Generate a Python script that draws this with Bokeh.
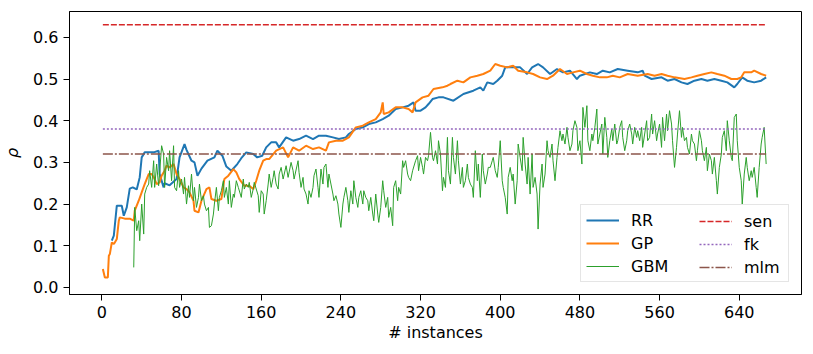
from bokeh.plotting import figure
from bokeh.models import Range1d, FixedTicker, Legend, LegendItem, CustomJSTickFormatter
from bokeh.embed import file_html
from bokeh.resources import INLINE

# ---------------- data ----------------
rr_instances = [10, 12, 15, 20, 22, 25, 28, 31, 35, 38, 40, 43, 52, 57, 58, 62, 63, 68, 75, 78,
                83, 85, 90, 93, 96, 100, 106, 113, 116, 121, 125, 130, 136, 140, 145, 152, 156, 161, 165, 170,
                175, 178, 185, 192, 198, 205, 212, 218, 225, 232, 238, 245, 248, 255, 262, 268, 275, 282, 288, 295,
                302, 308, 313, 315, 320, 325, 328, 332, 338, 343, 353, 363, 373, 380, 383, 387, 393, 397, 402, 405,
                413, 420, 427, 432, 438, 443, 450, 457, 463, 470, 477, 480, 490, 497, 503, 510, 518, 528, 538, 543,
                545, 552, 562, 568, 575, 582, 588, 595, 602, 608, 615, 622, 628, 635, 638, 643, 648, 655, 662, 667]
rr_rho = [0.112, 0.124, 0.196, 0.196, 0.172, 0.192, 0.237, 0.24, 0.235, 0.264, 0.312, 0.324, 0.324, 0.328, 0.272, 0.24, 0.25, 0.245, 0.26, 0.312,
          0.344, 0.33, 0.304, 0.30, 0.268, 0.285, 0.304, 0.312, 0.328, 0.316, 0.29, 0.28, 0.296, 0.31, 0.324, 0.32, 0.312, 0.316, 0.336, 0.348,
          0.348, 0.336, 0.36, 0.352, 0.356, 0.364, 0.356, 0.364, 0.364, 0.36, 0.356, 0.36, 0.368, 0.38, 0.384, 0.392, 0.396, 0.404, 0.412, 0.428,
          0.432, 0.436, 0.444, 0.424, 0.424, 0.432, 0.44, 0.452, 0.456, 0.456, 0.448, 0.464, 0.472, 0.48, 0.472, 0.492, 0.488, 0.496, 0.508, 0.528,
          0.528, 0.528, 0.512, 0.528, 0.536, 0.528, 0.512, 0.524, 0.516, 0.52, 0.50, 0.508, 0.516, 0.512, 0.52, 0.516, 0.524, 0.52, 0.516, 0.52,
          0.508, 0.50, 0.504, 0.496, 0.50, 0.492, 0.488, 0.496, 0.50, 0.496, 0.50, 0.496, 0.492, 0.48, 0.488, 0.504, 0.496, 0.492, 0.496, 0.504]

gp_instances = [1, 3, 6, 7, 8, 10, 12, 13, 15, 17, 18, 23, 28, 32, 33, 37, 40, 43, 47, 50,
                53, 55, 58, 60, 63, 65, 68, 72, 75, 78, 82, 85, 88, 92, 93, 97, 100, 105, 108, 110,
                115, 120, 123, 127, 132, 135, 138, 143, 148, 152, 155, 158, 162, 165, 168, 175, 182, 187, 192, 198,
                205, 212, 218, 225, 228, 235, 242, 248, 255, 262, 268, 275, 280, 282, 283, 288, 295, 302, 308, 312,
                315, 322, 328, 333, 342, 347, 350, 357, 363, 370, 377, 383, 390, 395, 400, 407, 413, 418, 427, 433,
                440, 447, 453, 460, 467, 473, 480, 487, 493, 500, 507, 513, 520, 528, 538, 548, 555, 562, 568, 575,
                585, 592, 598, 605, 612, 618, 625, 632, 638, 642, 645, 652, 655, 662, 667]
gp_rho = [0.044, 0.024, 0.024, 0.076, 0.08, 0.108, 0.104, 0.108, 0.116, 0.16, 0.168, 0.165, 0.165, 0.16, 0.184, 0.208, 0.228, 0.248, 0.272, 0.272,
          0.26, 0.248, 0.252, 0.268, 0.28, 0.292, 0.288, 0.296, 0.272, 0.26, 0.24, 0.236, 0.228, 0.208, 0.184, 0.18, 0.208, 0.236, 0.24, 0.212,
          0.208, 0.212, 0.26, 0.268, 0.284, 0.276, 0.26, 0.244, 0.244, 0.236, 0.256, 0.28, 0.304, 0.308, 0.308, 0.328, 0.336, 0.312, 0.336, 0.328,
          0.34, 0.332, 0.336, 0.328, 0.348, 0.352, 0.352, 0.36, 0.384, 0.388, 0.396, 0.404, 0.42, 0.444, 0.416, 0.42, 0.432, 0.432, 0.428, 0.42,
          0.444, 0.456, 0.46, 0.476, 0.48, 0.484, 0.488, 0.496, 0.492, 0.504, 0.508, 0.512, 0.52, 0.536, 0.532, 0.528, 0.532, 0.52, 0.516, 0.512,
          0.504, 0.50, 0.508, 0.524, 0.512, 0.516, 0.52, 0.512, 0.508, 0.504, 0.504, 0.508, 0.504, 0.512, 0.508, 0.512, 0.508, 0.512, 0.508, 0.504,
          0.50, 0.504, 0.508, 0.512, 0.516, 0.512, 0.508, 0.50, 0.50, 0.504, 0.516, 0.516, 0.52, 0.512, 0.508]

gbm_instances = [32, 33, 35, 37, 38, 40, 42, 43, 45, 47, 48, 50, 52, 53, 55, 57, 60, 62, 63, 65,
                 67, 68, 70, 72, 73, 75, 77, 78, 80, 82, 83, 85, 87, 88, 90, 92, 93, 95, 97, 98,
                 100, 102, 103, 105, 107, 108, 110, 112, 113, 115, 117, 118, 120, 122, 123, 125, 127, 128, 130, 132,
                 133, 135, 137, 140, 142, 143, 145, 147, 148, 150, 152, 153, 157, 158, 160, 162, 163, 165, 167, 168,
                 170, 172, 173, 175, 177, 178, 180, 182, 185, 187, 190, 192, 193, 197, 198, 200, 202, 203, 205, 207,
                 208, 210, 212, 213, 215, 217, 218, 220, 222, 223, 225, 227, 228, 230, 232, 233, 235, 237, 238, 240,
                 242, 243, 245, 247, 248, 250, 252, 253, 255, 257, 258, 260, 262, 263, 265, 267, 268, 270, 272, 273,
                 275, 277, 278, 280, 282, 283, 285, 287, 288, 290, 292, 293, 295, 297, 298, 300, 302, 303, 305, 307,
                 308, 310, 312, 315, 317, 318, 320, 322, 323, 325, 327, 328, 330, 332, 333, 335, 337, 338, 340, 342,
                 343, 345, 347, 348, 350, 352, 353, 355, 357, 358, 360, 362, 363, 365, 367, 368, 370, 372, 373, 375,
                 377, 378, 380, 382, 383, 385, 387, 388, 390, 392, 393, 395, 397, 398, 400, 402, 403, 405, 407, 408,
                 410, 412, 413, 415, 417, 418, 420, 422, 423, 425, 427, 428, 430, 432, 433, 435, 437, 438, 440, 442,
                 443, 445, 447, 448, 450, 452, 453, 455, 457, 458, 460, 462, 463, 465, 467, 468, 470, 472, 473, 475,
                 477, 478, 480, 482, 483, 485, 487, 488, 490, 492, 493, 495, 497, 498, 500, 502, 503, 505, 507, 508,
                 510, 512, 513, 515, 517, 518, 520, 522, 523, 525, 527, 528, 530, 532, 533, 535, 537, 538, 540, 542,
                 543, 545, 547, 548, 550, 552, 553, 555, 557, 558, 560, 562, 563, 565, 567, 568, 570, 572, 573, 575,
                 577, 578, 580, 582, 583, 585, 587, 588, 590, 592, 593, 595, 597, 598, 600, 602, 603, 605, 607, 608,
                 610, 612, 613, 615, 617, 618, 620, 622, 623, 625, 627, 628, 630, 632, 633, 635, 637, 638, 640, 642,
                 643, 645, 647, 648, 650, 652, 653, 655, 657, 658, 660, 662, 663, 665, 667]
gbm_rho = [0.048, 0.192, 0.136, 0.16, 0.112, 0.2, 0.128, 0.224, 0.24, 0.248, 0.28, 0.24, 0.304, 0.24, 0.296, 0.244, 0.34, 0.32, 0.24, 0.312,
           0.28, 0.328, 0.256, 0.34, 0.24, 0.232, 0.28, 0.24, 0.26, 0.224, 0.264, 0.2, 0.244, 0.216, 0.272, 0.208, 0.24, 0.192, 0.216, 0.248,
           0.208, 0.22, 0.2, 0.184, 0.192, 0.144, 0.148, 0.176, 0.2, 0.24, 0.184, 0.216, 0.232, 0.256, 0.216, 0.24, 0.2, 0.256, 0.192, 0.224,
           0.216, 0.256, 0.24, 0.216, 0.26, 0.236, 0.248, 0.24, 0.252, 0.216, 0.236, 0.252, 0.22, 0.18, 0.232, 0.224, 0.176, 0.208, 0.248, 0.272,
           0.24, 0.264, 0.28, 0.248, 0.236, 0.272, 0.288, 0.26, 0.292, 0.264, 0.30, 0.28, 0.26, 0.304, 0.276, 0.24, 0.264, 0.236, 0.224, 0.2,
           0.232, 0.216, 0.24, 0.268, 0.284, 0.24, 0.216, 0.284, 0.248, 0.288, 0.296, 0.24, 0.272, 0.248, 0.224, 0.208, 0.22, 0.2, 0.176, 0.144,
           0.2, 0.216, 0.24, 0.208, 0.18, 0.232, 0.2, 0.256, 0.216, 0.192, 0.216, 0.232, 0.2, 0.232, 0.216, 0.208, 0.184, 0.216, 0.176, 0.16,
           0.224, 0.176, 0.156, 0.192, 0.256, 0.232, 0.192, 0.216, 0.168, 0.192, 0.148, 0.24, 0.256, 0.208, 0.24, 0.224, 0.304, 0.288, 0.304, 0.272,
           0.264, 0.256, 0.28, 0.304, 0.316, 0.28, 0.312, 0.288, 0.272, 0.312, 0.304, 0.316, 0.372, 0.312, 0.304, 0.328, 0.296, 0.352, 0.32, 0.232,
           0.264, 0.24, 0.36, 0.28, 0.248, 0.36, 0.312, 0.272, 0.352, 0.304, 0.248, 0.288, 0.24, 0.256, 0.296, 0.264, 0.248, 0.24, 0.216, 0.328,
           0.256, 0.296, 0.216, 0.32, 0.28, 0.248, 0.272, 0.288, 0.288, 0.304, 0.312, 0.28, 0.264, 0.288, 0.352, 0.256, 0.24, 0.216, 0.176, 0.264,
           0.288, 0.256, 0.272, 0.2, 0.256, 0.344, 0.312, 0.28, 0.36, 0.296, 0.248, 0.312, 0.224, 0.32, 0.24, 0.264, 0.224, 0.14, 0.248, 0.296,
           0.24, 0.272, 0.352, 0.328, 0.312, 0.344, 0.304, 0.256, 0.312, 0.336, 0.376, 0.352, 0.368, 0.344, 0.384, 0.36, 0.328, 0.344, 0.376, 0.40,
           0.384, 0.328, 0.352, 0.296, 0.432, 0.384, 0.436, 0.352, 0.328, 0.368, 0.352, 0.384, 0.428, 0.344, 0.368, 0.392, 0.32, 0.408, 0.36, 0.312,
           0.352, 0.38, 0.352, 0.392, 0.344, 0.352, 0.384, 0.40, 0.36, 0.328, 0.352, 0.376, 0.392, 0.368, 0.344, 0.384, 0.36, 0.376, 0.352, 0.384,
           0.336, 0.368, 0.40, 0.352, 0.36, 0.416, 0.368, 0.40, 0.352, 0.368, 0.392, 0.336, 0.408, 0.352, 0.416, 0.376, 0.424, 0.392, 0.352, 0.288,
           0.336, 0.368, 0.424, 0.36, 0.384, 0.352, 0.36, 0.336, 0.32, 0.368, 0.352, 0.344, 0.304, 0.328, 0.376, 0.352, 0.328, 0.304, 0.336, 0.28,
           0.32, 0.304, 0.272, 0.312, 0.256, 0.224, 0.288, 0.32, 0.36, 0.376, 0.328, 0.40, 0.352, 0.312, 0.304, 0.408, 0.416, 0.352, 0.288, 0.256,
           0.2, 0.272, 0.312, 0.288, 0.256, 0.28, 0.264, 0.288, 0.24, 0.216, 0.288, 0.344, 0.36, 0.384, 0.296]

first_instance = 1
last_instance = 667
sen_rho = 0.63
fk_rho = 0.38
mlm_rho = 0.32

y_ticks = [0.0, 0.1, 0.2, 0.3, 0.4, 0.5, 0.6]
x_ticks = [0, 80, 160, 240, 320, 400, 480, 560, 640]

# ---------------- figure ----------------
FONT = "DejaVu Sans"
FS = "16px"

p = figure(width=805, height=346, output_backend="svg", toolbar_location=None,
           x_range=Range1d(-32.5, 702.5), y_range=Range1d(-0.017, 0.662),
           min_border_left=69, min_border_right=4, min_border_top=11, min_border_bottom=52)
p.xgrid.visible = False
p.ygrid.visible = False
p.outline_line_color = "black"
p.outline_line_width = 1
p.background_fill_color = "white"
p.border_fill_color = "white"

for ax in (p.xaxis[0], p.yaxis[0]):
    ax.major_tick_in = 0
    ax.major_tick_out = 6
    ax.minor_tick_out = 0
    ax.minor_tick_in = 0
    ax.axis_line_color = "black"
    ax.major_tick_line_color = "black"
    ax.major_label_text_font = FONT
    ax.major_label_text_font_size = FS
    ax.major_label_text_color = "black"
    ax.axis_label_text_font = FONT
    ax.axis_label_text_font_size = FS
    ax.axis_label_text_color = "black"
    ax.axis_label_text_font_style = "normal"
    ax.major_label_standoff = 5

p.xaxis.ticker = FixedTicker(ticks=x_ticks)
p.yaxis.ticker = FixedTicker(ticks=y_ticks)
p.yaxis.formatter = CustomJSTickFormatter(code="return tick.toFixed(1);")
p.xaxis.axis_label = "# instances"
p.yaxis.axis_label = "ρ"
p.yaxis.axis_label_text_font_style = "italic"
p.xaxis.axis_label_standoff = 2
p.yaxis.axis_label_standoff = 8

r_rr = p.line(rr_instances, rr_rho, line_color="#1f77b4", line_width=2)
r_gp = p.line(gp_instances, gp_rho, line_color="#ff7f0e", line_width=2)
r_gbm = p.line(gbm_instances, gbm_rho, line_color="#2ca02c", line_width=1)
span_x = [first_instance, last_instance]
r_sen = p.line(span_x, [sen_rho, sen_rho], line_color="#d62728", line_width=1.5, line_dash="6 2")
r_fk = p.line(span_x, [fk_rho, fk_rho], line_color="#9467bd", line_width=1.5, line_dash="2 2")
r_mlm = p.line(span_x, [mlm_rho, mlm_rho], line_color="#8c564b", line_width=1.5, line_dash="10 2 2 2")


def style_legend(lg):
    lg.label_text_font = FONT
    lg.label_text_font_size = FS
    lg.label_text_color = "black"
    lg.glyph_width = 33
    lg.glyph_height = 20
    lg.label_standoff = 12
    lg.label_height = 20
    lg.spacing = 3
    lg.padding = 5
    lg.margin = 0


# left column (carries the shared frame of the legend box)
legend_a = Legend(items=[
    LegendItem(label="RR", renderers=[r_rr]),
    LegendItem(label="GP", renderers=[r_gp]),
    LegendItem(label="GBM", renderers=[r_gbm]),
], location=(511, 12))
style_legend(legend_a)
legend_a.label_width = 152
legend_a.border_line_color = "#cccccc"
legend_a.border_line_width = 1
legend_a.background_fill_color = "white"
legend_a.background_fill_alpha = 0.8

# right column
legend_b = Legend(items=[
    LegendItem(label="sen", renderers=[r_sen]),
    LegendItem(label="fk", renderers=[r_fk]),
    LegendItem(label="mlm", renderers=[r_mlm]),
], location=(625, 12))
style_legend(legend_b)
legend_b.border_line_alpha = 0
legend_b.background_fill_alpha = 0

p.add_layout(legend_a, "center")
p.add_layout(legend_b, "center")

open("out.html", "w").write(file_html(p, INLINE))
